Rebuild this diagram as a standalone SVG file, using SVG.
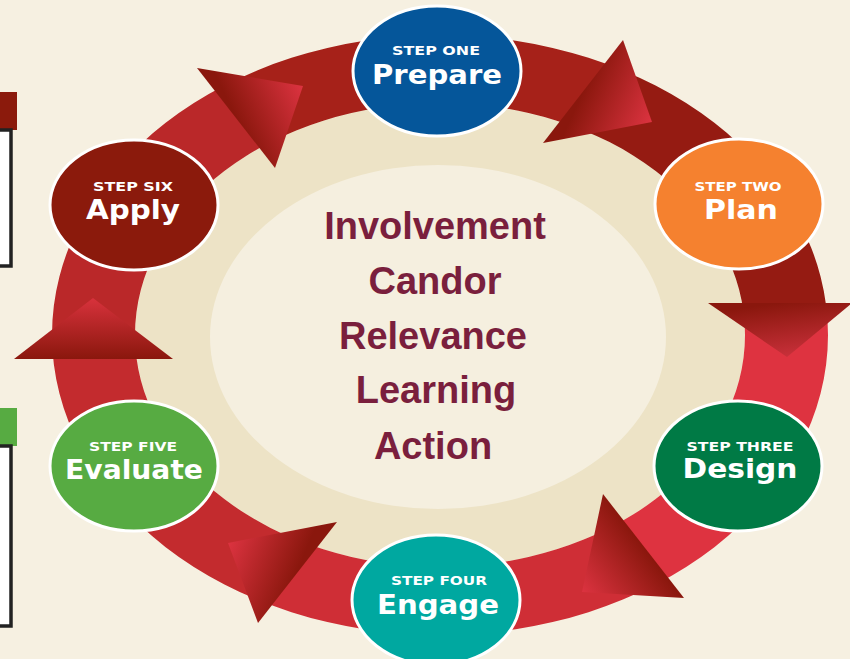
<svg xmlns="http://www.w3.org/2000/svg" width="850" height="659" viewBox="0 0 850 659">
  <style>
    .step { font-family: "DejaVu Sans", "Liberation Sans", sans-serif; font-weight: bold; fill: #ffffff; text-anchor: middle; }
    .tag { font-size: 12px; }
    .name { font-size: 26px; }
    .disc { stroke: #ffffff; stroke-width: 3; }
    .value { font-family: "Liberation Sans", Arial, sans-serif; font-weight: bold; font-size: 38px; fill: #7a1f3d; text-anchor: middle; }
    .head { stroke: none; }
  </style>
  <defs>
    <clipPath id="ringClip">
      <path clip-rule="evenodd" d="M 52 335 a 388 300 0 1 0 776 0 a 388 300 0 1 0 -776 0 Z M 135 335 a 305 232 0 1 0 610 0 a 305 232 0 1 0 -610 0 Z"/>
    </clipPath>
    <!-- arrowhead shading: dark along the base, bright toward the tip -->
    <linearGradient id="g1" gradientUnits="userSpaceOnUse" x1="236" y1="118" x2="303" y2="86">
      <stop offset="0" stop-color="#8a170d"/><stop offset="1" stop-color="#dc3340"/>
    </linearGradient>
    <linearGradient id="g2" gradientUnits="userSpaceOnUse" x1="583" y1="91" x2="652" y2="122">
      <stop offset="0" stop-color="#8a170d"/><stop offset="1" stop-color="#dc3340"/>
    </linearGradient>
    <linearGradient id="g3" gradientUnits="userSpaceOnUse" x1="780" y1="303" x2="787" y2="357">
      <stop offset="0" stop-color="#8a170d"/><stop offset="1" stop-color="#c8303a"/>
    </linearGradient>
    <linearGradient id="g4" gradientUnits="userSpaceOnUse" x1="643" y1="546" x2="582" y2="592">
      <stop offset="0" stop-color="#8a170d"/><stop offset="1" stop-color="#dc3340"/>
    </linearGradient>
    <linearGradient id="g5" gradientUnits="userSpaceOnUse" x1="297" y1="572" x2="228" y2="543">
      <stop offset="0" stop-color="#8a170d"/><stop offset="1" stop-color="#dc3340"/>
    </linearGradient>
    <linearGradient id="g6" gradientUnits="userSpaceOnUse" x1="93" y1="359" x2="93" y2="298">
      <stop offset="0" stop-color="#8a170d"/><stop offset="1" stop-color="#d8323c"/>
    </linearGradient>
  </defs>

  <!-- page -->
  <rect x="0" y="0" width="850" height="659" fill="#f6f0e1"/>

  <!-- side panels cut by the left edge -->
  <g id="side-panels">
    <rect x="-2" y="92" width="19" height="38" fill="#8b1a0c"/>
    <rect x="-6" y="130" width="17" height="136" fill="#ffffff" stroke="#222222" stroke-width="3.5"/>
    <rect x="-2" y="408" width="19" height="38" fill="#57ab42"/>
    <rect x="-6" y="446" width="17" height="180" fill="#ffffff" stroke="#222222" stroke-width="3.5"/>
  </g>

  <!-- inner field -->
  <g id="field">
    <ellipse cx="440" cy="335" rx="305" ry="232" fill="#ede3c6"/>
    <ellipse cx="438" cy="337" rx="228" ry="172" fill="#f5efdf"/>
  </g>

  <!-- cycle ring and arrowheads -->
  <g id="connectors">
    <g clip-path="url(#ringClip)">
      <polygon fill="#ba2829" points="440,335 -360,345 -285,-3 -59,-290"/>
      <polygon fill="#a62119" points="440,335 -59,-290 440,-465 905,-316"/>
      <polygon fill="#951b12" points="440,335 905,-316 1133,-65 1239,303"/>
      <polygon fill="#de3340" points="440,335 1239,303 1165,673 946,955"/>
      <polygon fill="#cf2e36" points="440,335 946,955 440,1135 -30,982"/>
      <polygon fill="#c32b2e" points="440,335 -30,982 -253,735 -360,345"/>
    </g>
    <polygon class="head" fill="url(#g1)" points="197,68 275,168 303,86"/>
    <polygon class="head" fill="url(#g2)" points="623,40 543,143 652,122"/>
    <polygon class="head" fill="url(#g3)" points="708,303 852,303 787,357"/>
    <polygon class="head" fill="url(#g4)" points="603,494 684,598 582,592"/>
    <polygon class="head" fill="url(#g5)" points="337,522 258,623 228,543"/>
    <polygon class="head" fill="url(#g6)" points="14,359 173,359 93,298"/>
  </g>

  <!-- steps -->
  <g id="step-prepare">
    <ellipse class="disc" cx="437" cy="71" rx="84" ry="65" fill="#05569a"/>
    <text class="step tag" x="436" y="55" textLength="88" lengthAdjust="spacingAndGlyphs">STEP ONE</text>
    <text class="step name" x="437" y="84" textLength="130" lengthAdjust="spacingAndGlyphs">Prepare</text>
  </g>
  <g id="step-plan">
    <ellipse class="disc" cx="739" cy="204" rx="84" ry="65" fill="#f5812f"/>
    <text class="step tag" x="738" y="191" textLength="87" lengthAdjust="spacingAndGlyphs">STEP TWO</text>
    <text class="step name" x="741" y="219" textLength="74" lengthAdjust="spacingAndGlyphs">Plan</text>
  </g>
  <g id="step-design">
    <ellipse class="disc" cx="738" cy="466" rx="84" ry="65" fill="#007a45"/>
    <text class="step tag" x="740" y="451" textLength="107" lengthAdjust="spacingAndGlyphs">STEP THREE</text>
    <text class="step name" x="740" y="478" textLength="115" lengthAdjust="spacingAndGlyphs">Design</text>
  </g>
  <g id="step-engage">
    <ellipse class="disc" cx="436" cy="600" rx="84" ry="65" fill="#00a8a0"/>
    <text class="step tag" x="439" y="585" textLength="96" lengthAdjust="spacingAndGlyphs">STEP FOUR</text>
    <text class="step name" x="438" y="614" textLength="122" lengthAdjust="spacingAndGlyphs">Engage</text>
  </g>
  <g id="step-evaluate">
    <ellipse class="disc" cx="134" cy="466" rx="84" ry="65" fill="#57ab42"/>
    <text class="step tag" x="133" y="451" textLength="88" lengthAdjust="spacingAndGlyphs">STEP FIVE</text>
    <text class="step name" x="134" y="479" textLength="138" lengthAdjust="spacingAndGlyphs">Evaluate</text>
  </g>
  <g id="step-apply">
    <ellipse class="disc" cx="134" cy="205" rx="84" ry="65" fill="#8b1a0c"/>
    <text class="step tag" x="133" y="191" textLength="80" lengthAdjust="spacingAndGlyphs">STEP SIX</text>
    <text class="step name" x="133" y="219" textLength="94" lengthAdjust="spacingAndGlyphs">Apply</text>
  </g>

  <!-- guiding values in the centre -->
  <g id="values">
    <text class="value" x="435" y="239">Involvement</text>
    <text class="value" x="435" y="294">Candor</text>
    <text class="value" x="433" y="349">Relevance</text>
    <text class="value" x="436" y="403">Learning</text>
    <text class="value" x="433" y="459">Action</text>
  </g>
</svg>
